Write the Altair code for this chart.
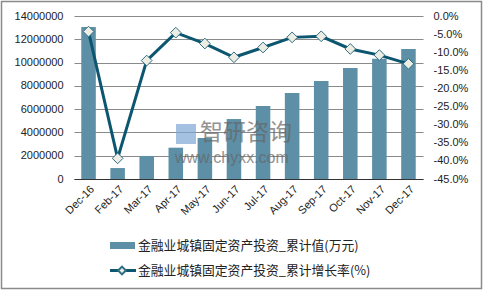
import altair as alt
import pandas as pd

months = ["Dec-16", "Feb-17", "Mar-17", "Apr-17", "May-17", "Jun-17",
          "Jul-17", "Aug-17", "Sep-17", "Oct-17", "Nov-17", "Dec-17"]
values = [13050000, 940000, 1980000, 2690000, 3520000, 5150000,
          6270000, 7390000, 8420000, 9530000, 10330000, 11170000]
growth = [-4.3, -39.3, -12.3, -4.6, -7.6, -11.4,
          -8.7, -5.9, -5.6, -9.1, -10.8, -13.2]
legend_labels = ["金融业城镇固定资产投资_累计值(万元)", "金融业城镇固定资产投资_累计增长率(%)"]

df = pd.DataFrame({"month": months, "value": values,
                   "growth": [g / 100 for g in growth]})

BAR = "#5D8FA6"
LINE = "#0D5670"
FONT = "Liberation Sans"
CJK = "Noto Sans CJK SC"
W, H = 349, 163
PL, PT = 74, 16

x_enc = alt.X("month:N", sort=months, title=None,
              scale=alt.Scale(paddingInner=0.5, paddingOuter=0.25),
              axis=alt.Axis(labelAngle=-45, labelFontSize=11, labelFont=FONT,
                            labelColor="#222", domainColor="#333", domainWidth=1.2,
                            ticks=False, labelPadding=4, labelOverlap=False))

bars = alt.Chart(df).mark_bar(color=BAR).encode(
    x=x_enc,
    y=alt.Y("value:Q", title=None,
            scale=alt.Scale(domain=[0, 14000000]),
            axis=alt.Axis(values=list(range(0, 14000001, 2000000)), format="d",
                          labelFontSize=11, labelFont=FONT, labelColor="#222",
                          labelOverlap=False, labelFlush=False,
                          domain=False, ticks=False, grid=True, gridColor="#8a8a8a",
                          gridWidth=1, labelPadding=11)),
)

right_axis = alt.Axis(orient="right", values=[round(-0.05 * i, 2) for i in range(10)],
                      labelExpr="(datum.value < -0.0001 ? '-' : '') + format(abs(datum.value), '.1%')",
                      labelFontSize=11, labelFont=FONT, labelColor="#222",
                      labelOverlap=False, labelFlush=False, labelBound=False,
                      domain=False, ticks=False, grid=False, labelPadding=10)
y_right = alt.Y("growth:Q", title=None, scale=alt.Scale(domain=[-0.45, 0]), axis=right_axis)

line = alt.Chart(df).mark_line(color=LINE, strokeWidth=3).encode(
    x=alt.X("month:N", sort=months),
    y=y_right,
)
pts = alt.Chart(df).mark_point(shape="diamond", filled=True, size=115,
                               fill="#EDEDE3", stroke="#2D6E84", strokeWidth=1,
                               opacity=1).encode(
    x=alt.X("month:N", sort=months),
    y=y_right,
)

one = pd.DataFrame({"a": [0]})
wm1 = alt.Chart(one).mark_text(text="智研咨询", font=CJK, fontSize=23, color="#666",
                               opacity=0.7, align="left", baseline="middle").encode(
    x=alt.value(200 - PL), y=alt.value(133 - PT))
wm2 = alt.Chart(one).mark_text(text="www.chyxx.com", font=FONT, fontSize=16, color="#666",
                               opacity=0.7, align="left", baseline="middle").encode(
    x=alt.value(175 - PL), y=alt.value(158 - PT))
logo = alt.Chart(one).mark_rect(color="#7EA6D6", opacity=0.7).encode(
    x=alt.value(176 - PL), x2=alt.value(196 - PL), y=alt.value(124 - PT), y2=alt.value(144 - PT))

leg_sw = alt.Chart(one).mark_rect(color=BAR).encode(
    x=alt.value(110 - PL), x2=alt.value(135 - PL), y=alt.value(242 - PT), y2=alt.value(249 - PT))
leg_t1 = alt.Chart(one).mark_text(text=legend_labels[0], font=CJK, fontSize=12.8, color="#222",
                                  align="left", baseline="middle").encode(
    x=alt.value(138 - PL), y=alt.value(245.5 - PT))
leg_ln = alt.Chart(one).mark_rule(color=LINE, strokeWidth=3).encode(
    x=alt.value(110 - PL), x2=alt.value(136 - PL), y=alt.value(270.5 - PT))
leg_pt = alt.Chart(one).mark_point(shape="diamond", filled=True, size=60, fill="#EDEDE3",
                                   stroke="#2D6E84", opacity=1).encode(
    x=alt.value(122 - PL), y=alt.value(270.5 - PT))
leg_t2 = alt.Chart(one).mark_text(text=legend_labels[1], font=CJK, fontSize=12.8, color="#222",
                                  align="left", baseline="middle").encode(
    x=alt.value(138 - PL), y=alt.value(270.5 - PT))
border = alt.Chart(one).mark_rect(fill=None, stroke="#8a8a8a", strokeWidth=1.5).encode(
    x=alt.value(1.5 - PL), x2=alt.value(481.5 - PL), y=alt.value(1.5 - PT), y2=alt.value(288.5 - PT))

chart = alt.layer(
    alt.layer(bars, line + pts).resolve_scale(y="independent"),
    logo, wm1, wm2, leg_sw, leg_t1, leg_ln, leg_pt, leg_t2, border,
).properties(
    width=W, height=H,
    autosize=alt.AutoSizeParams(type="none"),
    padding={"left": PL, "top": PT, "right": 485 - PL - W, "bottom": 292 - PT - H},
    background="white",
).configure_view(stroke=None)

chart.save("out.html", embed_options={"renderer": "svg", "actions": False})
